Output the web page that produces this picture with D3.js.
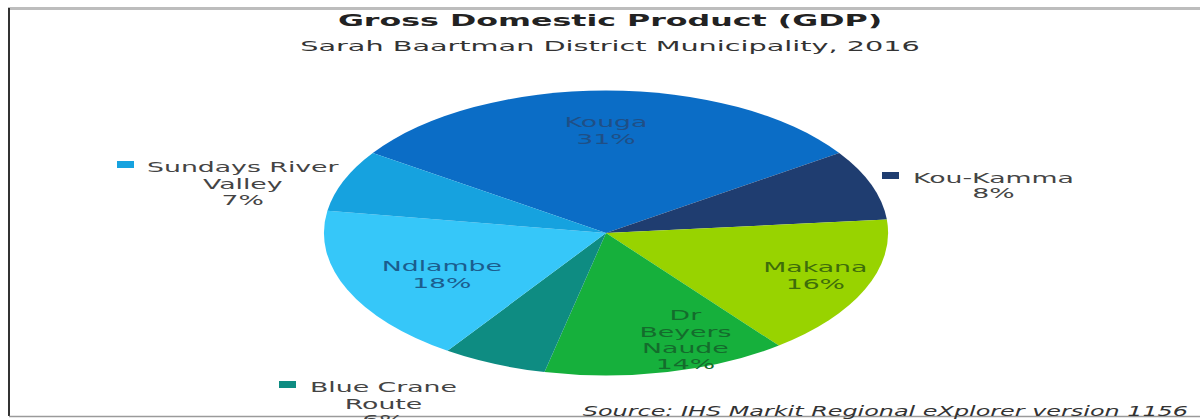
<!DOCTYPE html>
<html>
<head>
<meta charset="utf-8">
<script src="https://cdn.jsdelivr.net/npm/d3@7"></script>
<style>
  html, body { margin: 0; padding: 0; background: #fff; }
  svg { display: block; }
</style>
</head>
<body>
<svg id="chart" width="1200" height="419"></svg>
<script>
// GDP share by local municipality (percent), clockwise from the top-left
const categories = ["Kouga", "Kou-Kamma", "Makana", "Dr Beyers Naude", "Blue Crane Route", "Ndlambe", "Sundays River Valley"];
const shares = [31, 8, 16, 14, 6, 18, 7];
const sliceColors = ["#0b6dc6", "#1f3d70", "#98d300", "#16b03c", "#0e8c82", "#36c7f9", "#16a2df"];

const title = "Gross Domestic Product (GDP)";
const subtitle = "Sarah Baartman District Municipality, 2016";
const source = "Source: IHS Markit Regional eXplorer version 1156";

const svg = d3.select("#chart");
const W = 1200;
const font = "'DejaVu Sans', Verdana, sans-serif";
const SX = 1.98; // the chart is drawn twice as wide as tall: text is widened to suit

// text drawn at (x, y) and widened by sx around its anchor
function wideText(x, y, str, opts) {
  const g = svg.append("g").attr("transform", `translate(${x},${y}) scale(${opts.sx || SX},1)`);
  return g.append("text")
    .attr("text-anchor", opts.anchor || "middle")
    .attr("font-family", font)
    .attr("font-size", opts.size || 13.5)
    .attr("font-weight", opts.weight || "normal")
    .attr("font-style", opts.style || "normal")
    .attr("fill", opts.fill || "#333")
    .text(str);
}

// frame lines
svg.append("line").attr("x1", 8).attr("x2", W).attr("y1", 8.5).attr("y2", 8.5)
  .attr("stroke", "#bdbdbd").attr("stroke-width", 3);
svg.append("line").attr("x1", 9).attr("x2", 9).attr("y1", 8).attr("y2", 416)
  .attr("stroke", "#333").attr("stroke-width", 2);
svg.append("line").attr("x1", 9).attr("x2", W).attr("y1", 416.5).attr("y2", 416.5)
  .attr("stroke", "#9a9a9a").attr("stroke-width", 1.5);

// titles
wideText(610, 26, title, { size: 16, weight: "bold", fill: "#222" });
wideText(610, 51, subtitle, { size: 14.5, fill: "#333" });

// elliptical pie
const cx = 606, cy = 233, rx = 282, ry = 142.5;
const start = -0.31 * Math.PI;
const pie = d3.pie().sort(null).value(d => d.value)
  .startAngle(start).endAngle(start + 2 * Math.PI);
const data = categories.map((c, i) => ({ name: c, value: shares[i], color: sliceColors[i] }));
const arcs = pie(data);
const arc = d3.arc().innerRadius(0).outerRadius(1);

const pieG = svg.append("g").attr("transform", `translate(${cx},${cy}) scale(${rx},${ry})`);
pieG.selectAll("path").data(arcs).join("path")
  .attr("d", arc)
  .attr("fill", d => d.data.color);

// position on the ellipse for a given angle and relative radius
function onEllipse(angle, r) {
  return [cx + Math.sin(angle) * rx * r, cy - Math.cos(angle) * ry * r];
}

// labels inside the larger slices (radius and angle nudge in degrees)
const inside = {
  "Kouga": { r: 0.72, nudge: 0, color: "#1f4f86", lines: ["Kouga"], lh: 17 },
  "Makana": { r: 0.8, nudge: -1.5, color: "#3e6d0a", lines: ["Makana"], lh: 17 },
  "Dr Beyers Naude": { r: 0.8, nudge: -8, color: "#146c2c", lines: ["Dr", "Beyers", "Naude"], lh: 16.3 },
  "Ndlambe": { r: 0.65, nudge: -3, color: "#1b5d8e", lines: ["Ndlambe"], lh: 17 }
};
arcs.forEach(a => {
  const cfg = inside[a.data.name];
  if (!cfg) return;
  const mid = (a.startAngle + a.endAngle) / 2 + cfg.nudge * Math.PI / 180;
  const [x, y] = onEllipse(mid, cfg.r);
  const lines = cfg.lines.concat([a.data.value + "%"]);
  const y0 = y - (lines.length - 1) * cfg.lh / 2 + 5;
  lines.forEach((l, i) => wideText(x, y0 + i * cfg.lh, l, { fill: cfg.color }));
});

// labels with colour keys beside the small slices
const outside = [
  { name: "Sundays River Valley", keyX: 117, textX: 147, y: 172, lh: 16.5, lines: ["Sundays River", "Valley"] },
  { name: "Kou-Kamma", keyX: 882, textX: 913, y: 183, lh: 15, lines: ["Kou-Kamma"] },
  { name: "Blue Crane Route", keyX: 279, textX: 310, y: 392, lh: 16.5, lines: ["Blue Crane", "Route"] }
];
outside.forEach(o => {
  const d = data.find(e => e.name === o.name);
  svg.append("rect").attr("x", o.keyX).attr("y", o.y - 11).attr("width", 17).attr("height", 7)
    .attr("fill", d.color);
  const first = wideText(o.textX, o.y, o.lines[0], { anchor: "start", fill: "#444" });
  const centre = o.textX + first.node().getComputedTextLength() * SX / 2;
  const rest = o.lines.slice(1).concat([d.value + "%"]);
  rest.forEach((l, i) => wideText(centre, o.y + (i + 1) * o.lh, l, { fill: "#444" }));
});

// source note
wideText(1188, 416, source, { anchor: "end", size: 13.5, sx: 1.77, style: "italic", fill: "#333" });
</script>
</body>
</html>
